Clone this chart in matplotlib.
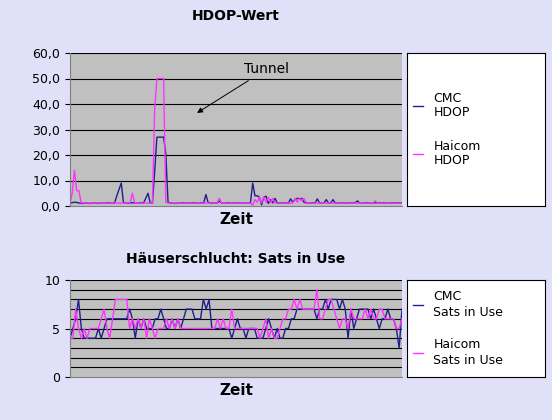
import numpy as np
import matplotlib.pyplot as plt
from matplotlib.lines import Line2D

cmc_hdop = [1.2, 1.3, 1.5, 1.4, 1.2, 1.1, 1.0, 1.2, 1.1, 1.0, 1.1, 1.2, 1.1, 1.0, 1.2, 1.1, 1.2, 1.3, 1.2, 1.1,
            1.2, 4.0, 6.5, 9.0, 1.3, 1.2, 1.1, 1.2, 1.3, 1.2, 1.1, 1.2, 1.3, 1.2, 3.0, 5.0, 1.2, 1.1, 13.5, 27.0,
            27.0, 27.0, 27.0, 20.5, 1.5, 1.2, 1.1, 1.0, 1.2, 1.1, 1.2, 1.3, 1.2, 1.1, 1.2, 1.3, 1.2, 1.1, 1.2, 1.3,
            1.2, 4.5, 1.3, 1.2, 1.1, 1.2, 1.1, 2.0, 1.2, 1.1, 1.2, 1.3, 1.2, 1.1, 1.2, 1.3, 1.2, 1.1, 1.2, 1.1,
            1.2, 1.3, 9.0, 4.0, 4.0, 3.5, 0.5, 3.5, 3.8, 1.0, 2.5, 1.2, 3.0, 1.2, 1.1, 1.2, 1.3, 1.2, 1.1, 2.8,
            1.5, 2.5, 3.0, 2.8, 3.0, 1.5, 1.2, 1.1, 1.2, 1.3, 1.2, 2.8, 1.2, 1.1, 1.2, 2.5, 1.2, 1.1, 2.5, 1.2,
            1.1, 1.2, 1.3, 1.2, 1.1, 1.2, 1.3, 1.2, 1.3, 2.0, 1.2, 1.1, 1.2, 1.3, 1.2, 1.1, 1.2, 1.3, 1.2, 1.3,
            1.2, 1.3, 1.2, 1.1, 1.2, 1.3, 1.2, 1.3, 1.2, 1.3]
haicom_hdop = [1.2, 5.0, 14.0, 6.0, 6.0, 1.3, 1.2, 1.1, 1.2, 1.1, 1.2, 1.1, 1.2, 1.1, 1.2, 1.1, 1.2, 1.1, 1.2, 1.1,
               1.2, 1.1, 1.2, 1.1, 1.2, 1.1, 1.2, 1.3, 5.0, 1.2, 1.1, 1.2, 1.1, 1.2, 1.1, 1.2, 1.1, 1.2, 38.0, 50.0,
               50.0, 50.0, 50.0, 1.5, 1.2, 1.1, 1.2, 1.1, 1.2, 1.1, 1.2, 1.1, 1.2, 1.1, 1.2, 1.1, 1.2, 1.1, 1.2, 1.1,
               1.2, 1.1, 1.2, 1.1, 1.2, 1.1, 1.2, 3.0, 1.2, 1.1, 1.2, 1.1, 1.2, 1.1, 1.2, 1.1, 1.2, 1.1, 1.2, 1.1,
               1.2, 1.1, 0.3, 2.5, 1.5, 3.5, 1.2, 3.5, 1.5, 3.5, 1.2, 3.0, 1.2, 1.1, 1.2, 1.1, 1.2, 1.1, 1.2, 1.1,
               1.2, 3.0, 1.5, 3.0, 2.0, 3.0, 1.2, 1.1, 1.2, 1.1, 1.2, 1.1, 1.2, 1.1, 1.2, 1.1, 1.2, 1.1, 1.2, 1.1,
               1.2, 1.1, 1.2, 1.1, 1.2, 1.1, 1.2, 1.1, 1.2, 1.1, 1.2, 1.1, 1.2, 1.1, 1.2, 1.1, 1.2, 2.0, 1.2, 1.1,
               1.2, 1.1, 1.2, 1.1, 1.2, 1.1, 1.2, 1.1, 1.2, 1.1]

cmc_sats = [4, 5, 6, 8, 5, 4, 4, 4, 4, 4, 5, 4, 5, 6, 6, 6, 6, 6, 6, 6, 6, 7, 6, 4, 6, 5, 6, 5, 5, 5,
            6, 6, 7, 6, 5, 5, 6, 5, 6, 5, 6, 7, 7, 7, 6, 6, 6, 8, 7, 8, 5, 5, 5, 5, 5, 5, 5, 4, 5, 6,
            5, 5, 4, 5, 5, 5, 4, 4, 4, 5, 6, 5, 4, 5, 4, 4, 5, 5, 6, 6, 7, 7, 7, 7, 7, 7, 7, 6, 7, 7,
            8, 7, 8, 8, 8, 7, 8, 7, 4, 7, 5, 6, 7, 7, 7, 7, 6, 7, 6, 5, 6, 6, 7, 6, 6, 5, 3, 7]
haicom_sats = [4, 4, 7, 5, 4, 5, 4, 5, 5, 5, 5, 6, 7, 5, 4, 6, 8, 8, 8, 8, 8, 5, 6, 5, 6, 5, 6, 4, 6, 5,
               4, 5, 5, 5, 6, 5, 6, 5, 6, 5, 5, 5, 5, 5, 5, 5, 5, 5, 5, 5, 5, 5, 6, 5, 6, 5, 5, 7, 5, 5,
               5, 5, 5, 5, 5, 5, 5, 4, 5, 6, 4, 5, 4, 4, 5, 6, 6, 7, 7, 8, 7, 8, 7, 7, 7, 7, 7, 9, 6, 6,
               7, 8, 8, 7, 6, 5, 6, 6, 5, 7, 6, 6, 6, 6, 7, 6, 7, 6, 6, 7, 7, 6, 6, 6, 6, 5, 5, 6]

bg = '#E0E0F8'
navy = '#1F1F8F'
pink = '#FF33FF'
fig = plt.figure(figsize=(5.52, 4.2), dpi=100, facecolor=bg)
plt.rcParams['font.family'] = 'DejaVu Sans'


def panel(rect, lrect, d1, d2, labels, ylim, yticks, yfmt, grid):
    ax = fig.add_axes(rect, facecolor='#C0C0C0')
    ax.plot(range(len(d1)), d1, color=navy, lw=1)
    ax.plot(range(len(d2)), d2, color=pink, lw=1)
    ax.set_xlim(0, max(len(d1), len(d2)) - 1)
    ax.set_ylim(*ylim)
    ax.set_yticks(yticks)
    ax.set_yticklabels([yfmt(v) for v in yticks], fontsize=9)
    for g in grid:
        ax.axhline(g, color='black', lw=0.8, zorder=0.5)
    ax.set_xticks([])
    for s in ['top', 'right']:
        ax.spines[s].set_visible(False)
    ax.spines['left'].set_color('#808080')
    ax.spines['bottom'].set_color('#808080')
    ax.set_xlabel('Zeit', fontsize=11, fontweight='bold', labelpad=4)
    lax = fig.add_axes(lrect, facecolor='white')
    lax.set_xticks([]); lax.set_yticks([])
    h = [Line2D([], [], color=navy, lw=1), Line2D([], [], color=pink, lw=1)]
    lax.legend(h, labels, loc='center left', frameon=False, fontsize=9,
               handlelength=0.8, labelspacing=1.6, borderaxespad=0.1)
    return ax


ax1 = panel([70/552, 1-206/420, 332/552, 153/420], [407/552, 1-206/420, 138/552, 153/420],
            cmc_hdop, haicom_hdop, ['CMC\nHDOP', 'Haicom\nHDOP'], (0, 60), range(0, 61, 10),
            lambda v: f'{v:.1f}'.replace('.', ','), range(10, 61, 10))
ax1.set_title('HDOP-Wert', fontsize=10, fontweight='bold', pad=24)
ax1.annotate('Tunnel', xy=(57, 36.5), xytext=(78, 52), fontsize=10,
             arrowprops=dict(arrowstyle='-|>', color='black', lw=0.7, mutation_scale=8,
                             shrinkA=2, shrinkB=0))

ax2 = panel([70/552, 1-377/420, 332/552, 97/420], [407/552, 1-377/420, 138/552, 97/420],
            cmc_sats, haicom_sats, ['CMC\nSats in Use', 'Haicom\nSats in Use'], (0, 10), [0, 5, 10],
            lambda v: str(v), range(1, 11))
ax2.set_title('Häuserschlucht: Sats in Use', fontsize=10, fontweight='bold', pad=12)

fig.savefig('out.png', dpi=100, facecolor=bg)
